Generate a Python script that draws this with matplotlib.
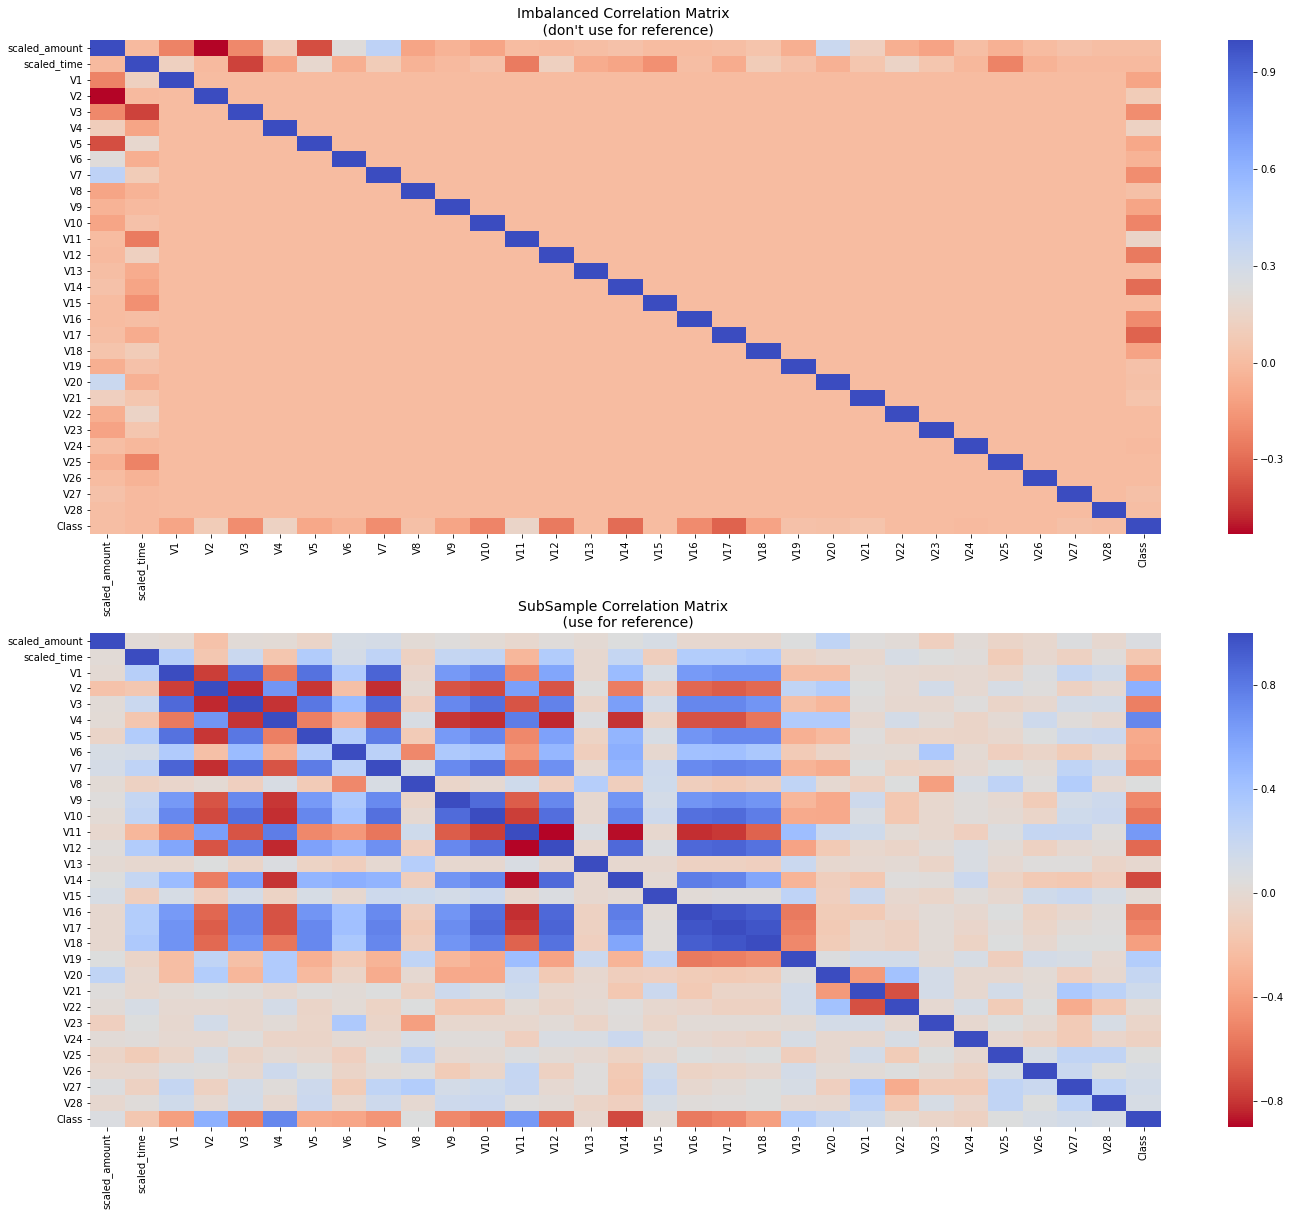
import numpy as np
import pandas as pd
import matplotlib
matplotlib.use('Agg')
import matplotlib.pyplot as plt
import matplotlib.transforms as mtransforms
import seaborn as sns

labels = ['scaled_amount', 'scaled_time'] + ['V%d' % i for i in range(1, 29)] + ['Class']

# top matrix: only these three rows differ from zero off the diagonal
top_amount = [-0.01, -0.23, -0.53, -0.21, 0.10, -0.39, 0.22, 0.40, -0.10, -0.04, -0.10, 0.0, -0.01, 0.01,
              0.03, 0.0, 0.0, 0.01, 0.04, -0.06, 0.34, 0.11, -0.06, -0.11, 0.01, -0.05, 0.0, 0.03, 0.01, 0.01]
top_time = [0.12, -0.01, -0.42, -0.10, 0.17, -0.06, 0.09, -0.04, -0.01, 0.03, -0.25, 0.12, -0.07, -0.10,
            -0.18, 0.01, -0.07, 0.09, 0.03, -0.05, 0.05, 0.14, 0.05, -0.02, -0.23, -0.04, -0.01, -0.01, -0.01]
top_class = [-0.10, 0.09, -0.19, 0.13, -0.09, -0.04, -0.19, 0.02, -0.10, -0.22, 0.15, -0.26, 0.0, -0.30,
             0.0, -0.20, -0.33, -0.11, 0.03, 0.02, 0.04, 0.0, 0.0, -0.01, 0.0, 0.0, 0.02, 0.01]

# bottom matrix, upper triangle, each row starts right after the diagonal
sub_rows = [
    [.02, .0, -.20, .02, .01, -.06, .10, .11, .01, .04, .01, -.03, .03, .0, .05, .10, -.02, -.02, -.02, .05, .24, .04, .02, -.10, .02, -.06, -.03, .06, -.02, .07],
    [.29, -.17, .18, -.18, .32, .11, .25, -.09, .21, .23, -.27, .32, -.02, .21, -.11, .31, .31, .34, -.06, -.02, -.03, .10, .05, .03, -.13, -.02, -.09, .03, -.17],
    [-.78, .87, -.56, .83, .33, .89, -.04, .65, .73, -.50, .58, -.02, .45, .10, .64, .68, .68, -.23, -.23, .01, -.01, -.02, -.01, -.05, .06, .21, .14, -.40],
    [-.84, .67, -.80, -.21, -.82, .0, -.70, -.74, .62, -.70, .05, -.55, -.10, -.64, -.67, -.63, .24, .31, .05, -.01, .13, -.01, .10, .04, -.09, -.01, .52],
    [-.81, .81, .45, .87, -.10, .73, .84, -.70, .76, -.06, .62, .12, .74, .74, .67, -.21, -.27, .03, -.02, -.02, .04, -.06, -.02, .12, .13, -.54],
    [-.54, -.30, -.70, .09, -.80, -.82, .78, -.84, .07, -.81, -.07, -.71, -.71, -.58, .33, .33, -.02, .12, .02, -.06, .0, .16, .03, -.02, .74],
    [.30, .79, -.14, .64, .74, -.50, .60, -.07, .49, .10, .67, .73, .73, -.31, -.25, .04, -.06, -.05, -.06, -.03, .05, .16, .17, -.34],
    [.27, -.50, .34, .39, -.43, .48, -.11, .53, -.02, .41, .42, .36, -.14, -.06, .02, .01, .34, .0, -.10, -.06, -.13, -.02, -.36],
    [.09, .72, .84, -.58, .69, -.01, .50, .16, .72, .76, .74, -.29, -.33, .05, -.07, -.06, -.01, .05, .01, .24, .16, -.44],
    [-.05, -.01, .15, -.10, .30, -.11, .15, -.11, -.15, -.11, .24, -.01, -.09, .05, -.40, .09, .25, .04, .31, -.01, .05],
    [.86, -.67, .73, -.02, .67, .12, .67, .71, .67, -.27, -.35, .16, -.16, -.03, .03, -.01, -.13, .12, .16, -.50],
    [-.78, .85, -.02, .75, .16, .84, .86, .78, -.34, -.35, .08, -.16, -.03, .03, .0, -.05, .15, .17, -.58],
    [-.90, .08, -.88, -.03, -.82, -.79, -.65, .43, .18, .15, .01, -.03, -.10, .06, .21, .20, .04, .65],
    [-.03, .87, .07, .88, .89, .83, -.38, -.15, -.03, -.06, .02, .08, .02, -.09, -.01, .02, -.63],
    [-.02, -.02, -.09, -.09, -.10, .18, -.02, -.01, .0, -.06, .08, -.01, .04, .04, -.06, -.02],
    [.0, .78, .75, .58, -.29, -.11, -.16, .04, .03, .17, -.07, -.15, -.16, -.10, -.74],
    [.02, .03, .03, .25, -.10, .17, -.02, -.05, .03, -.02, .14, .18, .10, .01],
    [.96, .92, -.56, -.13, -.15, -.04, .02, -.02, .05, -.07, -.02, .03, -.56],
    [.96, -.54, -.15, -.06, -.09, .02, -.04, .03, -.05, .02, .04, -.52],
    [-.50, -.13, -.06, -.09, .02, -.07, .05, -.02, .05, .05, -.40],
    [.06, .13, .13, .0, .10, -.11, .12, .10, -.01, .31],
    [-.42, .40, .12, -.02, -.02, .01, -.10, -.02, .21],
    [-.72, .12, -.02, .13, .02, .35, .26, .15],
    [-.01, .10, -.13, .05, -.33, -.16, .01],
    [-.02, .05, .0, -.14, .10, -.05],
    [-.02, -.07, -.14, -.04, -.09],
    [.10, .23, .23, .05],
    [.18, .05, .10],
    [.24, .13],
    [.10],
]

n = len(labels)

top = np.eye(n)
top[0, 1:] = top_amount
top[1, 2:] = top_time
top[2:30, 30] = top_class
top = top + top.T - np.diag(np.diag(top))

sub = np.eye(n)
for i, row in enumerate(sub_rows):
    sub[i, i + 1:] = row
    sub[i + 1:, i] = row

W, H = 1291, 1217
fig = plt.figure(figsize=(W / 72, H / 72), dpi=72)


def add_px(x0, y0, x1, y1):
    return fig.add_axes([x0 / W, 1 - y1 / H, (x1 - x0) / W, (y1 - y0) / H])


def draw(matrix, box, title, ticks):
    ax = add_px(90, box[0], 1161, box[1])
    cax = add_px(1228, box[0], 1253, box[1])
    df = pd.DataFrame(matrix, index=labels, columns=labels)
    sns.heatmap(df, cmap='coolwarm_r', ax=ax, cbar_ax=cax, cbar_kws={'ticks': ticks},
                xticklabels=True, yticklabels=True)
    ax.set_title(title, fontsize=14)
    ax.tick_params(labelsize=10)
    plt.setp(ax.get_yticklabels(), rotation=0)
    plt.setp(ax.get_xticklabels(), rotation=90)
    # row labels sit a pixel lower in the original
    shift = mtransforms.ScaledTranslation(0, -1 / 72, fig.dpi_scale_trans)
    for t in ax.get_yticklabels():
        t.set_transform(t.get_transform() + shift)
    cax.tick_params(labelsize=10)


draw(top, (40, 533.7), "Imbalanced Correlation Matrix \n (don't use for reference)", [-0.3, 0, 0.3, 0.6, 0.9])
draw(sub, (632.7, 1126.7), 'SubSample Correlation Matrix \n (use for reference)', [-0.8, -0.4, 0, 0.4, 0.8])

fig.savefig('out.png', dpi=72)
